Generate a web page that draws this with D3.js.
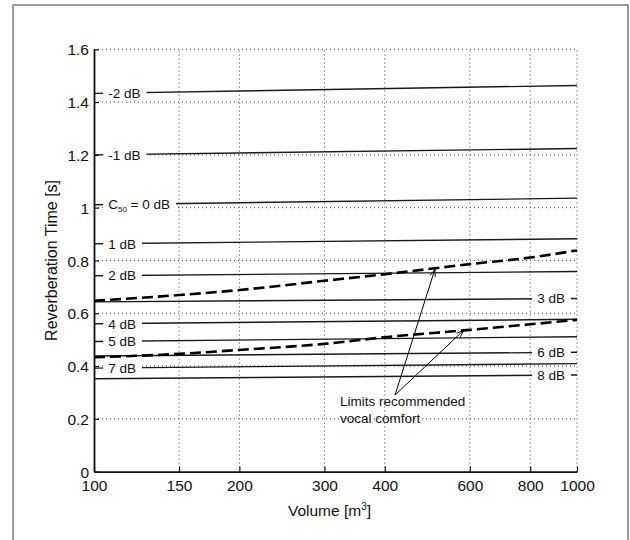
<!DOCTYPE html>
<html>
<head>
<meta charset="utf-8">
<script src="https://cdn.jsdelivr.net/npm/d3@7"></script>
<style>
  body { margin: 0; background: #fff; }
  svg { display: block; font-family: "Liberation Sans", Arial, sans-serif; }
</style>
</head>
<body>
<svg id="chart" width="630" height="540"></svg>
<script>
// data
const xTicks = [100, 150, 200, 300, 400, 600, 800, 1000];
const yTicks = [0, 0.2, 0.4, 0.6, 0.8, 1, 1.2, 1.4, 1.6];

// C50 iso-lines, value at V = 100 and V = 1000 m3
const volumeEnds = [100, 1000];
const c50Levels = [-2, -1, 0, 1, 2, 3, 4, 5, 6, 7, 8];
const c50Start = [1.433, 1.200, 1.011, 0.863, 0.742, 0.643, 0.560, 0.493, 0.438, 0.392, 0.352];
const c50End = [1.463, 1.224, 1.036, 0.882, 0.758, 0.656, 0.577, 0.511, 0.452, 0.409, 0.366];
const labelSide = ['left', 'left', 'left', 'left', 'left', 'right', 'left', 'left', 'right', 'left', 'right'];

// recommended vocal comfort limits (dashed)
const limitVolumes = [100, 150, 200, 300, 400, 600, 800, 1000];
const upperLimit = [0.647, 0.669, 0.688, 0.723, 0.748, 0.786, 0.811, 0.838];
const lowerLimit = [0.433, 0.446, 0.461, 0.484, 0.509, 0.537, 0.558, 0.575];

const noteLines = ['Limits recommended', 'vocal comfort'];

const svg = d3.select('#chart');
const margin = { left: 94, right: 53, top: 49.3, bottom: 68.4 };
const width = 630, height = 540;

const xScale = d3.scaleLog()
    .domain([100, 1000])
    .range([margin.left, width - margin.right]);

const yScale = d3.scaleLinear()
    .domain([0, 1.6])
    .range([height - margin.bottom, margin.top]);

// outer frame
svg.append('rect')
    .attr('x', 13).attr('y', 5)
    .attr('width', 615).attr('height', 545)
    .attr('fill', 'none')
    .attr('stroke', '#7a7a7a')
    .attr('stroke-width', 1.5);

// grid
const grid = svg.append('g').attr('class', 'grid')
    .attr('stroke', '#444')
    .attr('stroke-width', 1)
    .attr('stroke-dasharray', '1,3');

grid.selectAll('.gx')
    .data(xTicks.slice(1))
    .enter()
    .append('line')
    .attr('x1', d => xScale(d)).attr('x2', d => xScale(d))
    .attr('y1', yScale(0)).attr('y2', yScale(1.6));

grid.selectAll('.gy')
    .data(yTicks.slice(1))
    .enter()
    .append('line')
    .attr('y1', d => yScale(d)).attr('y2', d => yScale(d))
    .attr('x1', xScale(100)).attr('x2', xScale(1000));

// C50 lines
const lineGen = d3.line()
    .x(d => xScale(d[0]))
    .y(d => yScale(d[1]));

svg.append('g')
    .selectAll('.c50')
    .data(c50Levels)
    .enter()
    .append('path')
    .attr('class', 'c50')
    .attr('fill', 'none')
    .attr('stroke', '#1a1a1a')
    .attr('stroke-width', 1.4)
    .attr('d', (_d, i) => lineGen([[volumeEnds[0], c50Start[i]], [volumeEnds[1], c50End[i]]]));

// labels sitting in a gap of the lines
const valueAt = (i, v) => {
    const t = (Math.log10(v) - Math.log10(volumeEnds[0])) / (Math.log10(volumeEnds[1]) - Math.log10(volumeEnds[0]));
    return c50Start[i] + t * (c50End[i] - c50Start[i]);
};

const labels = svg.append('g').attr('class', 'c50-labels')
    .attr('font-size', '13.5px')
    .attr('fill', '#111');

c50Levels.forEach((lvl, i) => {
    const left = labelSide[i] === 'left';
    const v = left ? 107 : 944;
    const g = labels.append('g');
    const bg = g.append('rect').attr('fill', '#fff');
    const txt = g.append('text')
        .attr('x', xScale(v))
        .attr('y', yScale(valueAt(i, v)))
        .attr('dy', '0.36em')
        .attr('text-anchor', left ? 'start' : 'end');
    if (lvl === 0) {
        txt.append('tspan').text('C');
        txt.append('tspan').attr('font-size', '8px').attr('dy', 3).text('50');
        txt.append('tspan').attr('dy', -3).text(' = 0 dB');
    } else {
        txt.text(`${lvl} dB`);
    }
    const box = txt.node().getBBox();
    bg.attr('x', box.x - 5)
        .attr('y', box.y + 2)
        .attr('width', box.width + 11)
        .attr('height', box.height - 4);
});

// dashed comfort limits
const limitLine = d3.line()
    .x((_d, i) => xScale(limitVolumes[i]))
    .y(d => yScale(d))
    .curve(d3.curveMonotoneX);

svg.selectAll('.limit')
    .data([upperLimit, lowerLimit])
    .enter()
    .append('path')
    .attr('class', 'limit')
    .attr('fill', 'none')
    .attr('stroke', '#000')
    .attr('stroke-width', 2.6)
    .attr('stroke-dasharray', '11,5')
    .attr('d', d => limitLine(d));

// axes
const xAxis = d3.axisBottom(xScale)
    .tickValues(xTicks)
    .tickFormat(d3.format('d'))
    .tickSizeInner(-5)
    .tickSizeOuter(0)
    .tickPadding(9);

const yAxis = d3.axisLeft(yScale)
    .tickValues(yTicks)
    .tickFormat(d3.format('~g'))
    .tickSizeInner(-5)
    .tickSizeOuter(0)
    .tickPadding(5);

const gx = svg.append('g')
    .attr('transform', `translate(0,${yScale(0)})`)
    .call(xAxis);

const gy = svg.append('g')
    .attr('transform', `translate(${xScale(100)},0)`)
    .call(yAxis);

[gx, gy].forEach(g => {
    g.attr('font-family', null).attr('font-size', null);
    g.select('.domain').attr('stroke', '#111').attr('stroke-width', 1.8);
    g.selectAll('.tick line').attr('stroke', '#111').attr('stroke-width', 1.2);
    g.selectAll('.tick text').attr('fill', '#111').attr('font-size', '15.5px');
});
gy.selectAll('.tick text').attr('dy', '0.36em');
gx.selectAll('.tick text').attr('dy', '0.7em');

// axis titles
const xTitle = svg.append('text')
    .attr('x', (xScale(100) + xScale(1000)) / 2 - 6)
    .attr('y', 516)
    .attr('text-anchor', 'middle')
    .attr('font-size', '15.5px')
    .attr('fill', '#111');
xTitle.append('tspan').text('Volume [m');
xTitle.append('tspan').attr('font-size', '10px').attr('dy', -6).text('3');
xTitle.append('tspan').attr('dy', 6).text(']');

svg.append('text')
    .attr('transform', `translate(57,${(yScale(0) + yScale(1.6)) / 2}) rotate(-90)`)
    .attr('text-anchor', 'middle')
    .attr('font-size', '16px')
    .attr('fill', '#111')
    .text('Reverberation Time [s]');

// annotation with arrows
svg.append('defs').append('marker')
    .attr('id', 'arrow')
    .attr('viewBox', '-10 -5 12 10')
    .attr('refX', 0).attr('refY', 0)
    .attr('markerWidth', 10).attr('markerHeight', 10)
    .attr('markerUnits', 'userSpaceOnUse')
    .attr('orient', 'auto')
    .append('path')
    .attr('d', 'M-9,-3.2L0,0L-9,3.2')
    .attr('fill', 'none')
    .attr('stroke', '#000')
    .attr('stroke-width', 1);

const arrowTail = [420, 0.290];
const arrowHeads = [[508, 0.767], [583, 0.536]];

svg.selectAll('.arrow')
    .data(arrowHeads)
    .enter()
    .append('line')
    .attr('class', 'arrow')
    .attr('x1', xScale(arrowTail[0]))
    .attr('y1', yScale(arrowTail[1]))
    .attr('x2', d => xScale(d[0]))
    .attr('y2', d => yScale(d[1]))
    .attr('stroke', '#000')
    .attr('stroke-width', 1)
    .attr('marker-end', 'url(#arrow)');

svg.selectAll('.note')
    .data(noteLines)
    .enter()
    .append('text')
    .attr('class', 'note')
    .attr('x', xScale(323))
    .attr('y', (_d, i) => yScale(0.249) + i * 17)
    .attr('font-size', '13.5px')
    .attr('fill', '#111')
    .text(d => d);
</script>
</body>
</html>
